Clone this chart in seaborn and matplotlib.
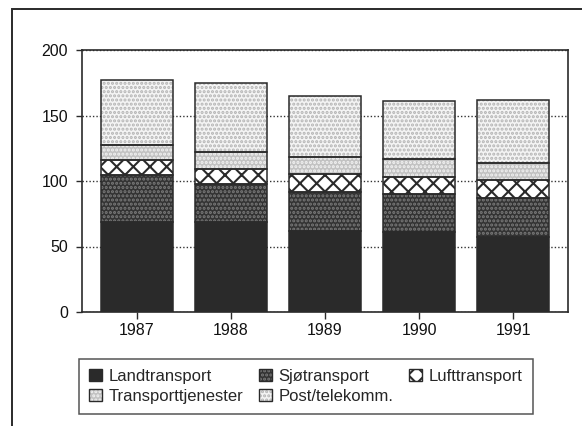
import seaborn as sns
import matplotlib.pyplot as plt
import matplotlib.patches as mpatches
import pandas as pd

# Data
years = ["1987", "1988", "1989", "1990", "1991"]
landtransport = [68.4, 68.4, 62.0, 60.8, 57.4]
sjotransport = [36.3, 29.1, 29.4, 29.1, 29.9]
lufttransport = [11.5, 11.5, 14.0, 13.0, 13.5]
transporttjenester = [11.4, 13.5, 12.8, 14.0, 12.8]
post_telekomm = [49.3, 52.4, 47.0, 43.9, 48.0]

series_names = ["Landtransport", "Sjøtransport", "Lufttransport",
                "Transporttjenester", "Post/telekomm."]
series_values = [landtransport, sjotransport, lufttransport,
                 transporttjenester, post_telekomm]

# Styles: (face, hatch, hatch colour)
styles = [
    ("#2a2a2a", None, "#2a2a2a"),
    ("#333333", "....", "#7a7a7a"),
    ("#ffffff", "xx", "#2a2a2a"),
    ("#c2c2c2", "....", "#f2f2f2"),
    ("#f4f4f4", "....", "#b4b4b4"),
]
dark = "#2a2a2a"

sns.set_style("white")
plt.rcParams["font.family"] = ["Liberation Sans", "DejaVu Sans"]
plt.rcParams["hatch.linewidth"] = 1.5

fig = plt.figure(figsize=(5.82, 4.26), dpi=100)
ax = fig.add_axes([82 / 582, 1 - 312 / 426, (568 - 82) / 582, (312 - 50) / 426])

bottom = [0.0] * len(years)
for name, vals, (face, hatch, hcol) in zip(series_names, series_values, styles):
    df = pd.DataFrame({"year": years, "value": vals})
    sns.barplot(data=df, x="year", y="value", bottom=bottom, color=face,
                saturation=1, width=0.766, edgecolor=hcol, linewidth=0,
                errorbar=None, ax=ax, zorder=2)
    if hatch:
        for p in ax.containers[-1]:
            p.set_hatch(hatch)
    # outline of each segment
    sns.barplot(data=df, x="year", y="value", bottom=bottom, color=dark,
                fill=False, width=0.766, linewidth=1.1, errorbar=None,
                ax=ax, zorder=3)
    bottom = [b + v for b, v in zip(bottom, vals)]

ax.set_xlim(-0.585, 4.585)
ax.set_ylim(0, 200)
ax.set_yticks([0, 50, 100, 150, 200])
ax.set_xlabel("")
ax.set_ylabel("")
ax.set_axisbelow(True)
ax.yaxis.grid(True, linestyle=(0, (1, 1.5)), color="#333333", linewidth=1)
ax.xaxis.grid(False)
for s in ax.spines.values():
    s.set_visible(True)
    s.set_color(dark)
    s.set_linewidth(1.2)
ax.tick_params(axis="y", left=True, length=4, width=1, pad=6,
               color=dark, labelsize=11.5, labelcolor="#111111")
ax.tick_params(axis="x", bottom=True, length=5, width=1, pad=3,
               color=dark, labelsize=11.5, labelcolor="#111111")

# Legend: hatched square with a dark outline on top
handles = []
for name, (face, hatch, hcol) in zip(series_names, styles):
    fillp = mpatches.Patch(facecolor=face, hatch=hatch, edgecolor=hcol,
                           linewidth=0)
    edgep = mpatches.Patch(facecolor="none", edgecolor=dark, linewidth=1)
    handles.append((fillp, edgep))
order = [0, 3, 1, 4, 2]
leg = fig.legend([handles[i] for i in order], [series_names[i] for i in order],
                 ncol=3, loc="upper left",
                 bbox_to_anchor=(79 / 582, 1 - 359 / 426),
                 fontsize=12, frameon=True, fancybox=False, shadow=False,
                 handlelength=0.8, handleheight=0.75, handletextpad=0.4,
                 columnspacing=0.9, labelspacing=0.3, borderpad=0.6,
                 borderaxespad=0)
leg.get_frame().set_edgecolor(dark)
leg.get_frame().set_linewidth(1.1)

# Outer frame (left and top edges visible, the rest runs off the image)
frame = mpatches.Rectangle((12 / 582, -0.1), 1.2, 0.1 + 1 - 9 / 426,
                           transform=fig.transFigure, fill=False,
                           edgecolor=dark, linewidth=1.4)
fig.patches.append(frame)

fig.savefig("out.png", dpi=100)
